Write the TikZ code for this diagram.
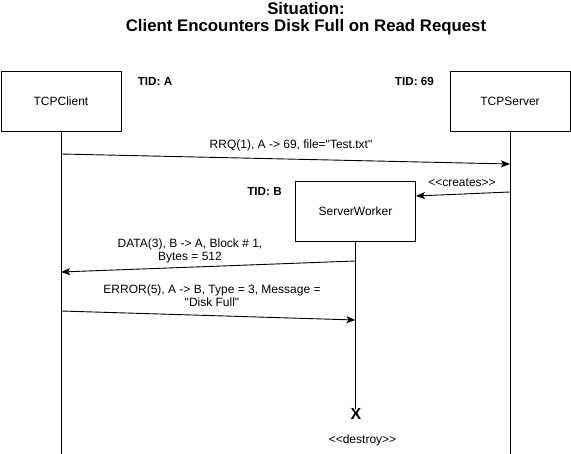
\documentclass[tikz,border=0pt]{standalone}
\usepackage{fontspec}
\setmainfont{Liberation Sans}
\usetikzlibrary{arrows.meta}
\tikzstyle{lifebox} = [draw=black, line width=0.9pt, rectangle,
    minimum width=120pt, minimum height=60pt, inner sep=0pt,
    font=\fontsize{12}{14}\selectfont]
\tikzstyle{lifeline} = [draw=black, line width=0.9pt]
\tikzstyle{msg} = [draw=black, line width=0.9pt,
    -{Stealth[length=9pt, width=7pt, inset=2pt]}]
\tikzstyle{msglabel} = [font=\fontsize{12}{13}\selectfont, align=center, inner sep=0pt]
\tikzstyle{tidlabel} = [font=\bfseries\fontsize{11.7}{13}\selectfont, inner sep=0pt]

\begin{document}
\begin{tikzpicture}[x=1pt, y=-1pt]
    \useasboundingbox (0,0) rectangle (571,454);
    % title
    \node[font=\bfseries\fontsize{16.8}{16.5}\selectfont, align=center, inner sep=0pt] (title) at (306,18.5)
        {Situation:\\Client Encounters Disk Full on Read Request};
    % participants
    \node [lifebox] (client) at (61,101) {TCPClient};
    \node [lifebox] (server) at (510,101.5) {TCPServer};
    \node [lifebox] (worker) at (355.5,211) {ServerWorker};
    \node [tidlabel] (tida) at (155,81) {TID: A};
    \node [tidlabel] (tid69) at (414.5,81) {TID: 69};
    \node [tidlabel] (tidb) at (264.5,191) {TID: B};
    \coordinate (clientbot) at (61,454);
    \coordinate (serverbot) at (510,454);
    \node[font=\bfseries\fontsize{16}{16}\selectfont, inner sep=0pt] (destroyx) at (356,413.5) {X};
    \node [msglabel] (destroy) at (362.5,440) {<{}<destroy>{}>};
    % lifelines
    \draw[lifeline] (client.south) -- (clientbot);
    \draw[lifeline] (server.south) -- (serverbot);
    \draw[lifeline] (worker.south) -- ([yshift=-1pt]worker.south |- destroyx.north);
    % messages
    \draw[msg] (client.south |- 0,154) -- (server.south |- 0,164);
    \node [msglabel] (rrq) at (291,145) {RRQ(1), A -> 69, file=\textquotedbl Test.txt\textquotedbl};
    \draw[msg] (server.south |- 0,192) -- (worker.east |- 0,196);
    \node [msglabel] (creates) at (462,183) {<{}<creates>{}>};
    \draw[msg] (worker.south |- 0,261) -- (client.south |- 0,272);
    \node [msglabel] (data) at (190,251) {DATA(3), B -> A, Block \# 1,\\Bytes = 512};
    \draw[msg] (client.south |- 0,311) -- (worker.south |- 0,320);
    \node [msglabel] (error) at (212,296) {ERROR(5), A -> B, Type = 3, Message =\\\textquotedbl Disk Full\textquotedbl};
\end{tikzpicture}
\end{document}
